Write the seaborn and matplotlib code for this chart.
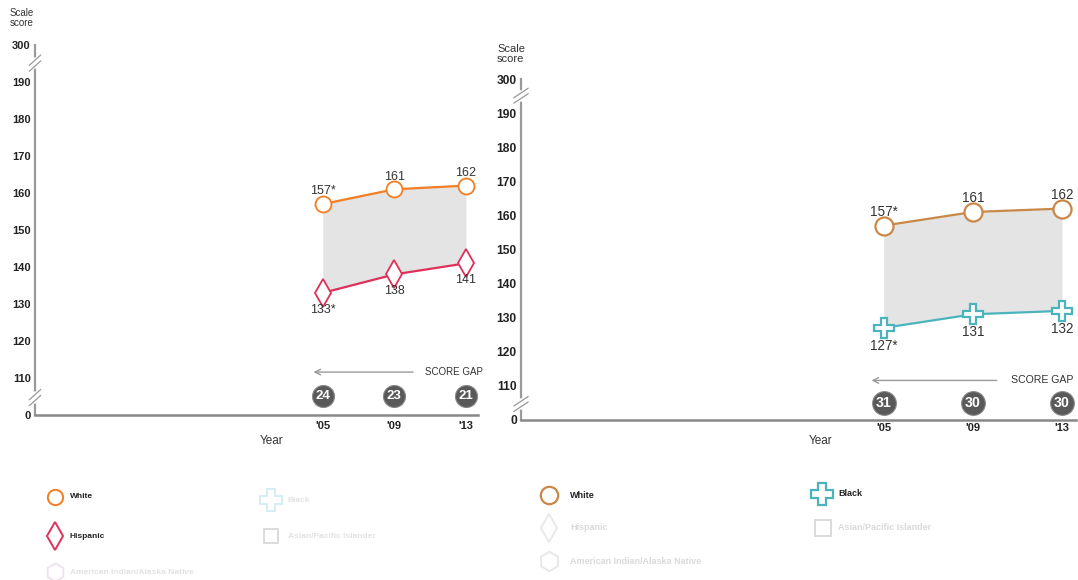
import matplotlib
matplotlib.use('Agg')
import matplotlib.pyplot as plt
import seaborn as sns
import pandas as pd
from matplotlib.lines import Line2D

# data
years = [2005, 2009, 2013]
year_labels = ["'05", "'09", "'13"]

white_left = [157, 161, 162]
white_left_txt = ['157*', '161', '162']
hispanic_left = [133, 138, 141]
hispanic_left_txt = ['133*', '138', '141']
gap_left = [24, 23, 21]

white_right = [157, 161, 162]
white_right_txt = ['157*', '161', '162']
black_right = [127, 131, 132]
black_right_txt = ['127*', '131', '132']
gap_right = [31, 30, 30]

# broken y axis: "0" sits at 100 and "300" sits at 200
ytick_pos = [100, 110, 120, 130, 140, 150, 160, 170, 180, 190, 200]
ytick_txt = ['0', '110', '120', '130', '140', '150', '160', '170', '180', '190', '300']

legend_names = ['White', 'Hispanic', 'American Indian/Alaska Native', 'Black', 'Asian/Pacific Islander']

sns.set_style('white')
plt.rcParams['font.family'] = ['Liberation Sans', 'DejaVu Sans']

fig = plt.figure(figsize=(10.78, 5.8), dpi=100)
W, H = 1078, 580


def px_axes(l, t, r, b):
    return fig.add_axes([l / W, 1 - b / H, (r - l) / W, (b - t) / H])


def draw_panel(ax, top, top_txt, top_col, top_mk, top_ms,
               bot, bot_txt, bot_col, bot_mk, bot_ms,
               gaps, k, xlim, mew):
    ax.fill_between(years, bot, top, color='#e4e4e4', lw=0, zorder=1)
    df = pd.DataFrame({'year': years, 'top': top, 'bot': bot})
    sns.lineplot(data=df, x='year', y='top', ax=ax, color=top_col, lw=1.6,
                 marker=top_mk, markersize=top_ms, markerfacecolor='white',
                 markeredgecolor=top_col, markeredgewidth=mew, zorder=3, clip_on=False)
    sns.lineplot(data=df, x='year', y='bot', ax=ax, color=bot_col, lw=1.6,
                 marker=bot_mk, markersize=bot_ms, markerfacecolor='white',
                 markeredgecolor=bot_col, markeredgewidth=mew, zorder=3, clip_on=False)
    for x, v, t in zip(years, top, top_txt):
        ax.annotate(t, (x, v), xytext=(0, 9.2 * k), textcoords='offset points',
                    ha='center', va='center', fontsize=9 * k, color='#333333')
    for x, v, t in zip(years, bot, bot_txt):
        ax.annotate(t, (x, v), xytext=(0, -12 * k), textcoords='offset points',
                    ha='center', va='center', fontsize=9 * k, color='#333333')

    # score gap bubbles
    gdf = pd.DataFrame({'year': years, 'y': [105.1] * 3})
    sns.scatterplot(data=gdf, x='year', y='y', ax=ax, s=250 * k * k, color='#595959',
                    edgecolor='#888888', linewidth=0.8, zorder=4, clip_on=False, legend=False)
    for x, g in zip(years, gaps):
        ax.text(x, 105.1, str(g), ha='center', va='center', color='white',
                fontsize=9.5 * k, fontweight='bold', zorder=5)
    ax.annotate('', xy=(2004.33, 111.6), xytext=(2010.2, 111.6),
                arrowprops=dict(arrowstyle='->', color='#999999', lw=1))
    ax.text(2010.7, 111.6, 'SCORE GAP', ha='left', va='center', fontsize=7 * k, color='#333333')

    ax.set_xlim(*xlim)
    ax.set_ylim(100, 200)
    ax.set_yticks(ytick_pos)
    ax.set_yticklabels(ytick_txt, fontweight='bold', fontsize=8 * k, color='#222222')
    ax.set_xticks(years)
    ax.set_xticklabels(year_labels, fontweight='bold', fontsize=8, color='#222222')
    ax.tick_params(axis='both', length=0)
    ax.tick_params(axis='y', pad=3)
    ax.set_ylabel('')
    ax.set_xlabel('Year', fontsize=8.5, color='#333333')
    for s in ['top', 'right']:
        ax.spines[s].set_visible(False)
    ax.spines['left'].set_color('#9a9a9a')
    ax.spines['left'].set_linewidth(1.6)
    ax.spines['bottom'].set_color('#888888')
    ax.spines['bottom'].set_linewidth(1.8)

    # axis break marks
    tr = ax.get_yaxis_transform()
    for yb in (195.1, 104.7):
        ax.plot([0, 0], [yb - 0.9, yb + 0.9], color='white', lw=4, transform=tr,
                clip_on=False, zorder=6)
        for dy in (-0.8, 0.8):
            ax.plot([-0.013, 0.013], [yb + dy - 1.4, yb + dy + 1.4], color='#999999',
                    lw=0.9, transform=tr, clip_on=False, zorder=7)


ax1 = px_axes(35, 45, 478, 415)
draw_panel(ax1, white_left, white_left_txt, '#f47d22', 'o', 11.5,
           hispanic_left, hispanic_left_txt, '#e0305a', 'd', 14.3,
           gap_left, 1.0, (1988.94, 2013.67), 1.3)
ax1.tick_params(axis='x', pad=4)
ax1.xaxis.set_label_coords(0.533, -0.055)

ax2 = px_axes(521, 79, 1076, 420)
draw_panel(ax2, white_right, white_right_txt, '#c98848', 'o', 13,
           black_right, black_right_txt, '#4ab4be', 'P', 14,
           gap_right, 1.08, (1988.73, 2013.63), 1.6)
ax2.tick_params(axis='x', pad=2.5)
ax2.xaxis.set_label_coords(0.54, -0.045)

fig.text(10 / W, 1 - 8 / H, 'Scale\nscore', ha='left', va='top', fontsize=7,
         color='#333333', linespacing=1.0)
fig.text(497 / W, 1 - 44 / H, 'Scale\nscore', ha='left', va='top', fontsize=8,
         color='#333333', linespacing=1.0)


def legend_item(x, y, mk, ms, col, name, tx, tcol, fs, face='white', mew=1.4):
    fig.add_artist(Line2D([x / W], [1 - y / H], transform=fig.transFigure, marker=mk,
                          markersize=ms, markerfacecolor=face, markeredgecolor=col,
                          markeredgewidth=mew, linestyle='none'))
    fig.text(tx / W, 1 - y / H, name, ha='left', va='center', fontsize=fs,
             fontweight='bold', color=tcol)


# left legend
legend_item(55, 497, 'o', 11, '#f47d22', legend_names[0], 70, '#222222', 6)
legend_item(55, 536, 'd', 14, '#e0305a', legend_names[1], 70, '#222222', 6)
legend_item(55, 572, 'h', 13, '#eee3ee', legend_names[2], 70, '#e2e2e2', 6)
legend_item(271, 500, 'P', 16, '#d4eef2', legend_names[3], 288, '#e2e2e2', 6)
legend_item(271, 536, 's', 10, '#dcdcdc', legend_names[4], 288, '#e2e2e2', 6)

# right legend
legend_item(549, 495, 'o', 12.5, '#c98848', legend_names[0], 570, '#222222', 6.5, mew=1.6)
legend_item(549, 528, 'd', 14, '#e8e8e8', legend_names[1], 570, '#dadada', 6.5)
legend_item(549, 561, 'h', 14, '#e8e8e8', legend_names[2], 570, '#dadada', 6.5)
legend_item(822, 494, 'P', 16, '#4ab4be', legend_names[3], 838, '#222222', 6.5, mew=1.6)
legend_item(823, 528, 's', 12, '#dadada', legend_names[4], 838, '#dadada', 6.5)

fig.savefig('out.png', dpi=100)
